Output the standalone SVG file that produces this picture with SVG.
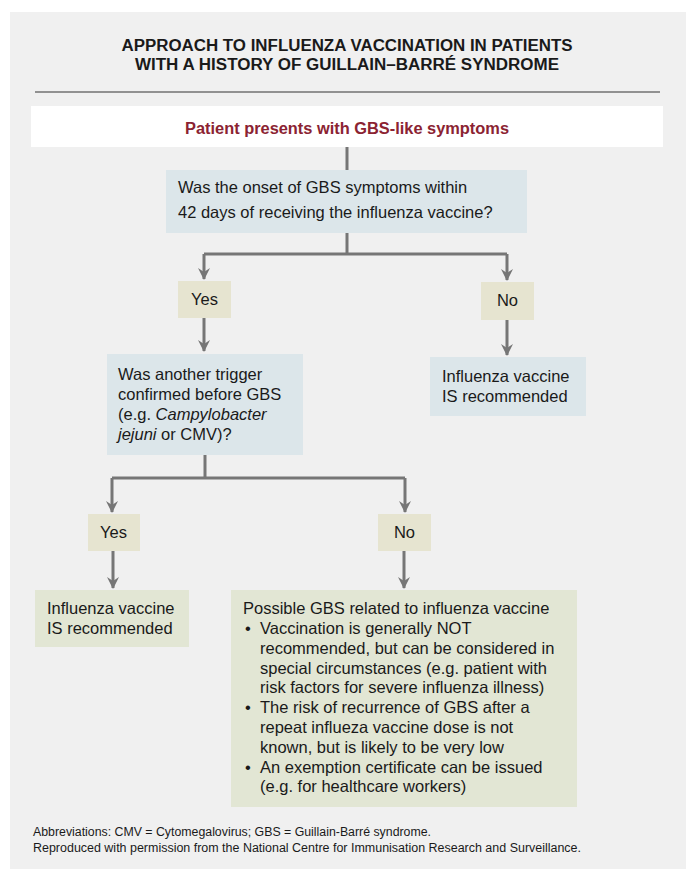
<svg xmlns="http://www.w3.org/2000/svg" width="694" height="881" viewBox="0 0 694 881">
<defs>
<marker id="ah" viewBox="0 0 12 12" refX="11" refY="6" markerWidth="12" markerHeight="12" markerUnits="userSpaceOnUse" orient="auto">
<path d="M0,0 L12,6 L0,12 L4,6 z" fill="#767676"/>
</marker>
<style>
.t{font-family:"Liberation Sans",Arial,sans-serif;font-size:16.5px;fill:#1a1a1a}
.f{font-family:"Liberation Sans Narrow","Liberation Sans",Arial,sans-serif;font-size:12px;fill:#1a1a1a}
.ttl{font-family:"Liberation Sans Narrow","Liberation Sans",Arial,sans-serif;font-size:16px;font-weight:bold;fill:#1a1a1a}
.q{fill:#dce6ea}
.yn{fill:#e6e4d0}
.g{fill:#e2e6d4}
.c{fill:none;stroke:#767676;stroke-width:3}
</style>
</defs>
<rect x="10" y="12" width="676" height="857" fill="#f0f0f0"/>
<g id="title">
<text class="ttl" x="347" y="51" text-anchor="middle" textLength="451" lengthAdjust="spacingAndGlyphs">APPROACH TO INFLUENZA VACCINATION IN PATIENTS</text>
<text class="ttl" x="347" y="70" text-anchor="middle" textLength="424" lengthAdjust="spacingAndGlyphs">WITH A HISTORY OF GUILLAIN–BARRÉ SYNDROME</text>
<line x1="35" y1="92" x2="660" y2="92" stroke="#333" stroke-width="1"/>
</g>
<g id="connectors">
<line class="c" x1="347" y1="147" x2="347" y2="170"/>
<path class="c" d="M347,233 V254 M204,254 H507 M204,254 V279" marker-end="url(#ah)"/>
<path class="c" d="M507,254 V280" marker-end="url(#ah)"/>
<path class="c" d="M204,318 V351" marker-end="url(#ah)"/>
<path class="c" d="M507,320 V355" marker-end="url(#ah)"/>
<path class="c" d="M205,455 V478 M112,478 H405"/>
<path class="c" d="M112,478 V512" marker-end="url(#ah)"/>
<path class="c" d="M405,478 V512" marker-end="url(#ah)"/>
<path class="c" d="M113,551 V588" marker-end="url(#ah)"/>
<path class="c" d="M404,551 V588" marker-end="url(#ah)"/>
</g>
<g id="start">
<rect x="31" y="106" width="632" height="41" fill="#ffffff"/>
<text x="347" y="134" text-anchor="middle" textLength="324" lengthAdjust="spacingAndGlyphs" style="font-family:'Liberation Sans Narrow','Liberation Sans',Arial,sans-serif;font-size:16px;font-weight:bold;fill:#8b2332">Patient presents with GBS-like symptoms</text>
</g>
<g id="q1">
<rect class="q" x="166" y="170" width="361" height="63"/>
<text class="t" x="178" y="193">Was the onset of GBS symptoms within</text>
<text class="t" x="178" y="218">42 days of receiving the influenza vaccine?</text>
</g>
<g id="yes1">
<rect class="yn" x="178" y="281" width="53" height="37"/>
<text class="t" x="204.5" y="305" text-anchor="middle">Yes</text>
</g>
<g id="no1">
<rect class="yn" x="481" y="282" width="53" height="38"/>
<text class="t" x="507.5" y="306" text-anchor="middle">No</text>
</g>
<g id="q2">
<rect class="q" x="107" y="354" width="196" height="101"/>
<text class="t" x="118" y="380">Was another trigger</text>
<text class="t" x="118" y="400">confirmed before GBS</text>
<text class="t" x="118" y="420">(e.g. <tspan font-style="italic">Campylobacter</tspan></text>
<text class="t" x="118" y="440"><tspan font-style="italic">jejuni</tspan> or CMV)?</text>
</g>
<g id="rec1">
<rect class="q" x="430" y="357" width="156" height="59"/>
<text class="t" x="442" y="382">Influenza vaccine</text>
<text class="t" x="442" y="402">IS recommended</text>
</g>
<g id="yes2">
<rect class="yn" x="88" y="514" width="52" height="37"/>
<text class="t" x="113.5" y="538" text-anchor="middle">Yes</text>
</g>
<g id="no2">
<rect class="yn" x="378" y="514" width="53" height="37"/>
<text class="t" x="404.5" y="538" text-anchor="middle">No</text>
</g>
<g id="rec2">
<rect class="g" x="35" y="590" width="154" height="57"/>
<text class="t" x="47" y="614">Influenza vaccine</text>
<text class="t" x="47" y="634">IS recommended</text>
</g>
<g id="possible">
<rect class="g" x="231" y="590" width="346" height="217"/>
<text class="t" x="243" y="614">Possible GBS related to influenza vaccine</text>
<text class="t" x="245" y="634">•</text>
<text class="t" x="260" y="634">Vaccination is generally NOT</text>
<text class="t" x="260" y="654">recommended, but can be considered in</text>
<text class="t" x="260" y="674">special circumstances (e.g. patient with</text>
<text class="t" x="260" y="693">risk factors for severe influenza illness)</text>
<text class="t" x="245" y="713">•</text>
<text class="t" x="260" y="713">The risk of recurrence of GBS after a</text>
<text class="t" x="260" y="733">repeat influeza vaccine dose is not</text>
<text class="t" x="260" y="753">known, but is likely to be very low</text>
<text class="t" x="245" y="773">•</text>
<text class="t" x="260" y="773">An exemption certificate can be issued</text>
<text class="t" x="260" y="792">(e.g. for healthcare workers)</text>
</g>
<g id="footer">
<text class="f" x="33" y="836" textLength="398" lengthAdjust="spacingAndGlyphs">Abbreviations: CMV = Cytomegalovirus; GBS = Guillain-Barré syndrome.</text>
<text class="f" x="33" y="852" textLength="548" lengthAdjust="spacingAndGlyphs">Reproduced with permission from the National Centre for Immunisation Research and Surveillance.</text>
</g>
</svg>
